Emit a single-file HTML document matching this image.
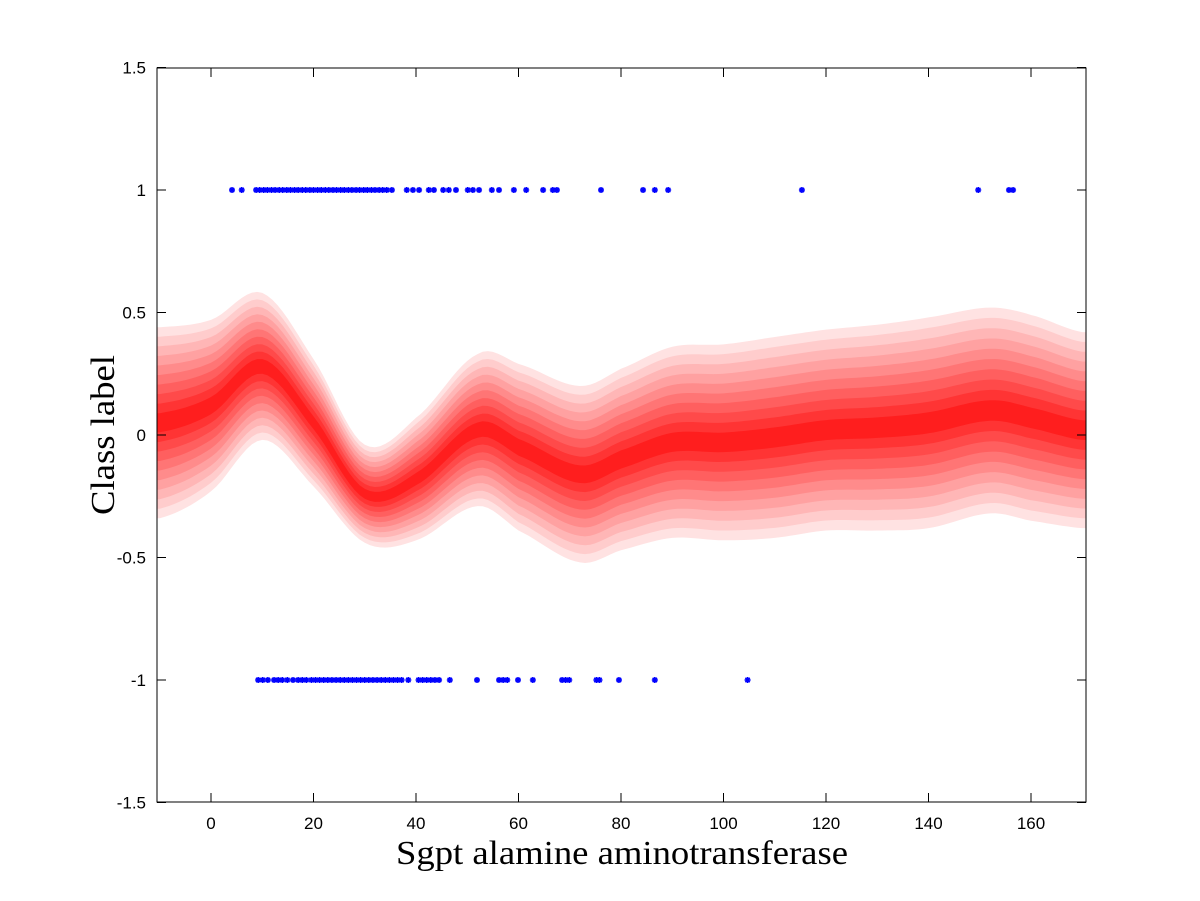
<!DOCTYPE html>
<html><head><meta charset="utf-8"><style>
html,body{margin:0;padding:0;background:#fff;}
svg{display:block;}
text{font-family:"Liberation Sans",sans-serif;}
</style></head><body>
<svg id="chart" width="1200" height="901">
<g id="bands"></g>
<g id="pts"></g>
<rect x="157" y="68" width="929" height="734" fill="none" stroke="#000" stroke-width="1"/>
<g id="axes"></g>
<text x="622" y="864" text-anchor="middle" font-size="34" textLength="452" lengthAdjust="spacingAndGlyphs" style="font-family:'Liberation Serif',serif">Sgpt alamine aminotransferase</text>
<text transform="translate(114,435) rotate(-90)" text-anchor="middle" font-size="34" textLength="160" lengthAdjust="spacingAndGlyphs" style="font-family:'Liberation Serif',serif">Class label</text>
</svg>
<script>
const xTicks=[0,20,40,60,80,100,120,140,160];
const yTicks=[-1.5,-1,-0.5,0,0.5,1,1.5];
const yTickLabels=["-1.5","-1","-0.5","0","0.5","1","1.5"];
const gridX=[-10,0,10,20,30,40,52,60,72,80,90,100,110,120,130,140,152,160,170];
const meanY=[0.05,0.12,0.28,0.05,-0.24,-0.18,0.02,-0.05,-0.16,-0.1,-0.03,-0.03,-0.01,0.02,0.03,0.05,0.1,0.07,0.02];
const halfW=[0.39,0.35,0.3,0.26,0.2,0.25,0.31,0.34,0.36,0.37,0.39,0.4,0.41,0.41,0.42,0.43,0.42,0.42,0.4];
const pos=[4.1,6,8.8,9.5,10.3,11,11.8,12.5,13.3,14,14.8,15.5,16.3,17,17.8,18.5,19.3,20,20.8,21.5,22.3,23,23.8,24.5,25.3,26,26.8,27.5,28.3,29,29.8,30.5,31.3,32,32.8,33.5,34.3,35.3,38.2,39.4,40.6,42.5,43.5,45.3,46.4,47.8,50.1,51.1,52.3,54.8,56.2,59.1,61.5,64.8,66.7,67.5,76.1,84.3,86.6,89.2,115.3,149.7,155.7,156.5];
const neg=[9.2,10.1,11.1,12.3,13.1,13.9,14.9,16,17,17.8,18.6,19.6,20.4,21.2,22,22.8,23.6,24.4,25.2,26,26.8,27.6,28.4,29.2,30,30.8,31.6,32.4,33.2,34,34.8,35.6,36.4,37.2,38.5,40.5,41.3,42.1,42.9,43.7,44.5,46.6,51.9,56.2,57,57.8,59.9,62.8,68.5,69.2,69.9,75.2,75.8,79.6,86.6,104.7];
const X=v=>211+v*5.125, Y=v=>435-v*245;
const NS='http://www.w3.org/2000/svg';
function mk(t,a,p){const e=document.createElementNS(NS,t);for(const k in a)e.setAttribute(k,a[k]);p.appendChild(e);return e;}
function interp(arr,x){
  let i=0;while(i<gridX.length-2&&x>gridX[i+1])i++;
  const x0=gridX[i],x1=gridX[i+1],t=(x-x0)/(x1-x0);
  const p0=arr[Math.max(i-1,0)],p1=arr[i],p2=arr[i+1],p3=arr[Math.min(i+2,arr.length-1)];
  const t2=t*t,t3=t2*t;
  return 0.5*((2*p1)+(-p0+p2)*t+(2*p0-5*p1+4*p2-p3)*t2+(-p0+3*p1-3*p2+p3)*t3);
}
const bands=document.getElementById('bands');
const N=10;
for(let k=0;k<N;k++){
  const f=1-k/N;
  const c=k/(N-1);
  const gb=Math.round(226-c*(226-30));
  let up=[],dn=[];
  for(let x=-11;x<=171;x+=1){
    const xx=Math.max(-10,Math.min(170,x));
    const m=interp(meanY,xx),h=interp(halfW,xx)*f;
    up.push(X(x).toFixed(1)+','+Y(m+h).toFixed(1));
    dn.unshift(X(x).toFixed(1)+','+Y(m-h).toFixed(1));
  }
  const p=mk('polygon',{points:up.concat(dn).join(' '),fill:`rgb(255,${gb},${gb})`},bands);
  
  
}
mk('clipPath',{id:'cp'},mk('defs',{},document.getElementById('chart')));
mk('rect',{x:157,y:68,width:929,height:734},document.getElementById('cp'));
bands.setAttribute('clip-path','url(#cp)');
const pts=document.getElementById('pts');
function star(v,cls){
  const cx=X(v),cy=Y(cls);
  const g=mk('g',{stroke:'#00f','stroke-width':1.6},pts);
  
  
  mk('line',{x1:cx-3,y1:cy,x2:cx+3,y2:cy},g);
  mk('line',{x1:cx,y1:cy-3,x2:cx,y2:cy+3},g);
  mk('line',{x1:cx-2.2,y1:cy-2.2,x2:cx+2.2,y2:cy+2.2},g);
  mk('line',{x1:cx-2.2,y1:cy+2.2,x2:cx+2.2,y2:cy-2.2},g);
}
pos.forEach(v=>star(v,1));
neg.forEach(v=>star(v,-1));
const ax=document.getElementById('axes');
xTicks.forEach(v=>{
  mk('line',{x1:X(v),y1:802,x2:X(v),y2:793,stroke:'#000'},ax);
  mk('line',{x1:X(v),y1:68,x2:X(v),y2:77,stroke:'#000'},ax);
  const t=mk('text',{x:X(v),y:829,'text-anchor':'middle','font-size':17},ax);
  t.textContent=v;
  
  
});
yTicks.forEach((v,i)=>{
  mk('line',{x1:157,y1:Y(v),x2:166,y2:Y(v),stroke:'#000'},ax);
  mk('line',{x1:1086,y1:Y(v),x2:1077,y2:Y(v),stroke:'#000'},ax);
  const t=mk('text',{x:146,y:Y(v)+6,'text-anchor':'end','font-size':17},ax);
  t.textContent=yTickLabels[i];
  
  
});
</script>
</body></html>
